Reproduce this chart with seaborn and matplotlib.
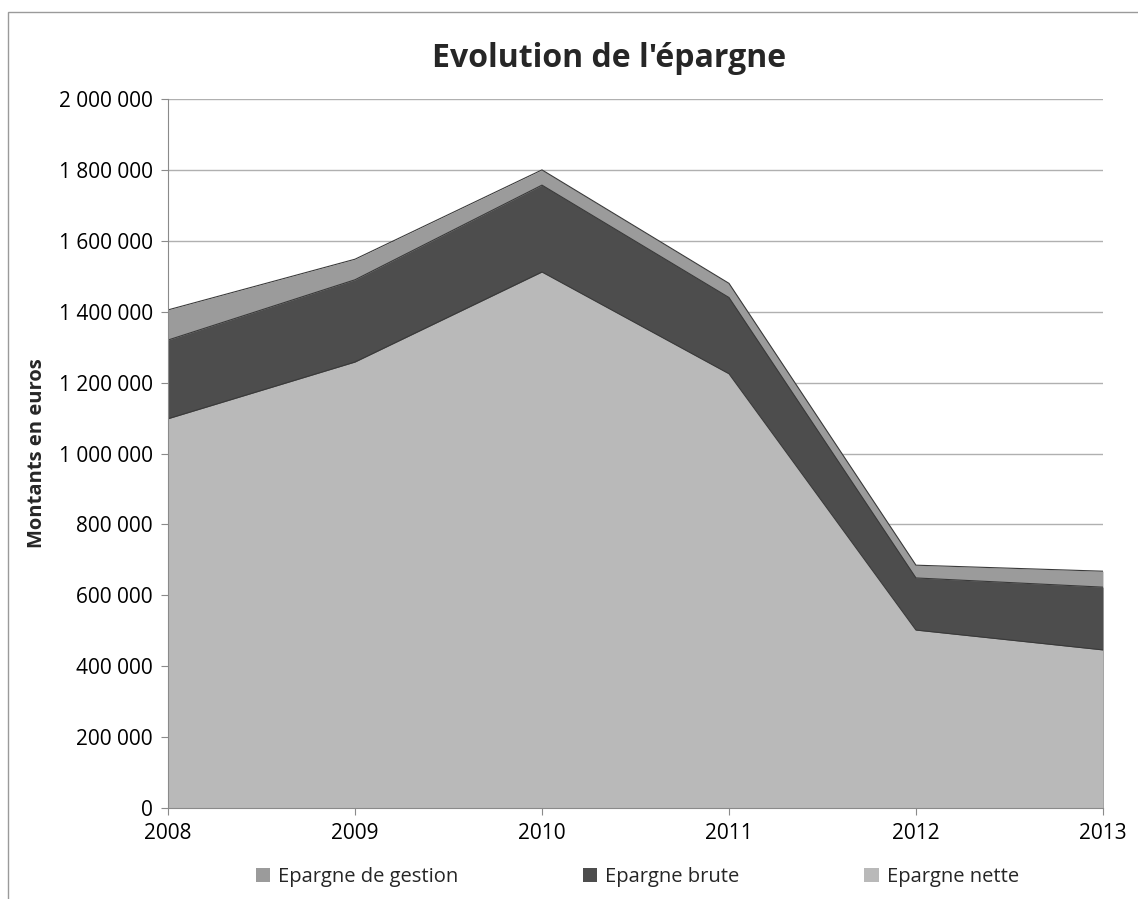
import numpy as np
import pandas as pd
import matplotlib
matplotlib.use('Agg')
import matplotlib.pyplot as plt
import seaborn as sns
from matplotlib.ticker import FuncFormatter, MultipleLocator
from matplotlib.patches import Rectangle

# Data
years = [2008, 2009, 2010, 2011, 2012, 2013]
epargne_gestion = [1405000, 1548000, 1800000, 1480000, 685000, 668000]
epargne_brute = [1320000, 1490000, 1757000, 1440000, 649000, 623000]
epargne_nette = [1098000, 1258000, 1512000, 1225000, 502000, 446000]

df = pd.DataFrame({'Année': years,
                   'Epargne de gestion': epargne_gestion,
                   'Epargne brute': epargne_brute,
                   'Epargne nette': epargne_nette})

sns.set_style('white')
plt.rcParams['font.family'] = ['Open Sans', 'DejaVu Sans']

fig = plt.figure(figsize=(11.38, 8.99), dpi=100)
ax = fig.add_axes([0.1476, 0.1012, 0.8216, 0.7887])

colours = {'Epargne de gestion': '#9b9b9b',
           'Epargne brute': '#4d4d4d',
           'Epargne nette': '#b9b9b9'}

# overlapping areas, largest at the back
for serie in ['Epargne de gestion', 'Epargne brute', 'Epargne nette']:
    ax.fill_between(df['Année'], 0, df[serie], color=colours[serie], label=serie, zorder=2, linewidth=0)
    sns.lineplot(data=df, x='Année', y=serie, ax=ax, color='#3a3a3a', linewidth=0.8, zorder=3, legend=False)

if ax.get_legend() is not None:
    ax.get_legend().remove()

ax.set_xlim(2008, 2013)
ax.set_ylim(0, 2000000)
ax.yaxis.set_major_locator(MultipleLocator(200000))
ax.yaxis.set_major_formatter(FuncFormatter(lambda v, p: f"{int(v):,}".replace(',', ' ')))
ax.set_xticks(years)
ax.grid(axis='y', color='#b0b0b0', linewidth=1, zorder=0)
ax.set_axisbelow(True)

for s in ['top', 'right']:
    ax.spines[s].set_visible(False)
for s in ['left', 'bottom']:
    ax.spines[s].set_color('#8a8a8a')
    ax.spines[s].set_zorder(4)

ax.tick_params(axis='both', labelsize=15, colors='#000000', length=5, direction='out',
               left=True, bottom=True, color='#8a8a8a', pad=6)
ax.set_xlabel('')
ax.set_ylabel('Montants en euros', fontsize=14.5, fontweight='bold', labelpad=8)

fig.text(0.535, 0.935, "Evolution de l'épargne", ha='center', va='center',
         fontsize=23, fontweight='bold')

handles, labels = ax.get_legend_handles_labels()
fig.legend(handles, labels, loc='center', bbox_to_anchor=(0.56, 0.024), ncol=3,
           frameon=False, fontsize=14.5, handlelength=0.7, handleheight=0.7,
           columnspacing=6.2, handletextpad=0.4)

fig.patches.append(Rectangle((0.007, -0.01), 1.0, 0.997, transform=fig.transFigure,
                             fill=False, edgecolor='#9a9a9a', linewidth=1))

fig.savefig('out.png', dpi=100)
